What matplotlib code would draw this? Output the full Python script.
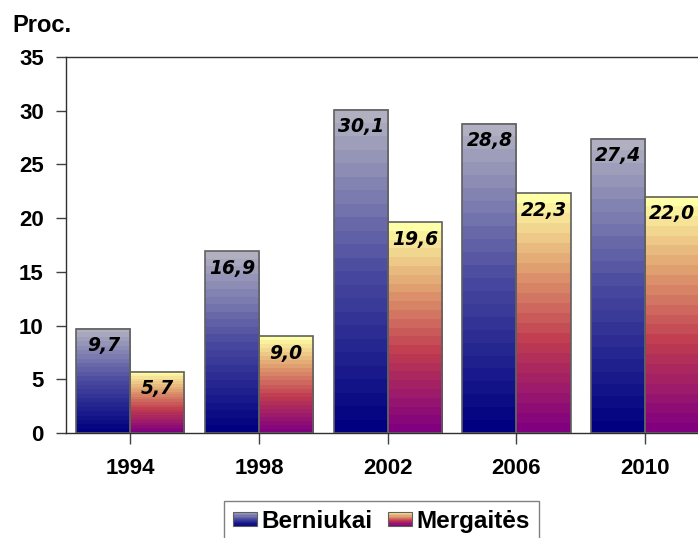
import numpy as np
import matplotlib
matplotlib.use("Agg")
import matplotlib.pyplot as plt
from matplotlib.colors import LinearSegmentedColormap
from matplotlib.patches import Rectangle
from matplotlib.legend_handler import HandlerBase

years = ["1994", "1998", "2002", "2006", "2010"]
berniukai = [9.7, 16.9, 30.1, 28.8, 27.4]
mergaites = [5.7, 9.0, 19.6, 22.3, 22.0]
series_names = ["Berniukai", "Mergaitės"]
yticks = [0, 5, 10, 15, 20, 25, 30, 35]

plt.rcParams['font.family'] = ['Liberation Sans', 'DejaVu Sans']

blue_cmap = LinearSegmentedColormap.from_list(
    "b", [(0.0, "#000080"), (0.5, "#4a4aa0"), (1.0, "#b0b0c0")])
warm_cmap = LinearSegmentedColormap.from_list(
    "w", [(0.0, "#800080"), (0.38, "#c03c50"), (0.7, "#e0a070"), (1.0, "#ffffa8")])

fig = plt.figure(figsize=(6.98, 5.38), dpi=100)
ax = fig.add_axes([66/698, 105/538, 643.5/698, 376/538])

x = np.arange(len(years))
w = 0.42
grad = np.linspace(0, 1, 24).reshape(-1, 1)

def grad_bar(xc, h, cmap):
    ax.imshow(grad, cmap=cmap, origin="lower", aspect="auto",
              extent=(xc - w/2, xc + w/2, 0, h), zorder=2, interpolation="nearest")
    ax.add_patch(Rectangle((xc - w/2, 0), w, h, fill=False,
                           edgecolor="#606060", lw=1.2, zorder=3))

for i in range(len(years)):
    grad_bar(x[i] - w/2, berniukai[i], blue_cmap)
    grad_bar(x[i] + w/2, mergaites[i], warm_cmap)
    for xc, v in ((x[i] - w/2, berniukai[i]), (x[i] + w/2, mergaites[i])):
        ax.annotate(f"{v:.1f}".replace(".", ","), (xc, v), xytext=(0, -12.3),
                    textcoords="offset points", ha="center", va="center",
                    fontsize=13.5, fontweight="bold", fontstyle="italic",
                    family="DejaVu Sans", zorder=4)

ax.set_xlim(-0.5, 4.5)
ax.set_ylim(0, 35)
ax.set_yticks(yticks)
ax.set_yticklabels([str(t) for t in yticks], fontsize=16, fontweight="bold")
ax.set_xticks(x)
ax.set_xticklabels(years, fontsize=16, fontweight="bold")
ax.tick_params(axis="y", length=7, width=1, color="#404040", pad=9)
ax.tick_params(axis="x", length=8, width=1, color="#404040", pad=10)
for s in ("left", "bottom", "top"):
    ax.spines[s].set_color("#303030")
    ax.spines[s].set_linewidth(1.0)
ax.spines["right"].set_visible(False)

fig.text(12/698, 1 - 25/538, "Proc.", fontsize=17, fontweight="bold", va="center", ha="left")

class GradHandler(HandlerBase):
    def __init__(self, cmap):
        super().__init__()
        self.cmap = cmap
    def create_artists(self, legend, orig_handle, xdescent, ydescent, width, height, fontsize, trans):
        n = 12
        arts = []
        for k in range(n):
            arts.append(Rectangle((-xdescent, -ydescent + height * k / n), width, height / n + 0.3,
                                  facecolor=self.cmap((k + 0.5) / n), edgecolor="none", transform=trans))
        arts.append(Rectangle((-xdescent, -ydescent), width, height, fill=False,
                              edgecolor="#606060", lw=0.8, transform=trans))
        return arts

h1 = Rectangle((0, 0), 1, 1)
h2 = Rectangle((0, 0), 1, 1)
leg = fig.legend([h1, h2], series_names, loc="upper left",
                 bbox_to_anchor=(224/698, 1 - 501/538), ncol=2,
                 handler_map={h1: GradHandler(blue_cmap), h2: GradHandler(warm_cmap)},
                 prop={"size": 17.5, "weight": "bold"}, fancybox=False, frameon=True,
                 edgecolor="#606060", handlelength=1.0, handleheight=0.5,
                 handletextpad=0.18, columnspacing=0.65, borderpad=0.35, borderaxespad=0)
leg.get_frame().set_linewidth(1.0)

fig.savefig("out.png", dpi=100)
